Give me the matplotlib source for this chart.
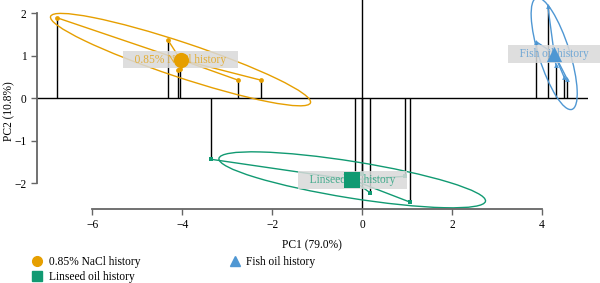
import numpy as np
import matplotlib
matplotlib.use("Agg")
import matplotlib.pyplot as plt
from matplotlib.patches import Ellipse
from matplotlib.lines import Line2D

plt.rcParams['font.family'] = ['Liberation Serif', 'DejaVu Serif']
plt.rcParams['font.size'] = 8.3

# PCA scores per group
groups = ['0.85% NaCl history', 'Linseed oil history', 'Fish oil history']
colors = ['#E69F00', '#119A72', '#4F97D3']
markers = ['o', 's', '^']

nacl_pc1 = [-6.78, -4.32, -4.09, -4.05, -2.75, -2.24]
nacl_pc2 = [1.89, 1.37, 0.66, 0.68, 0.42, 0.42]
linseed_pc1 = [-3.36, -0.16, -0.01, 0.18, 0.96, 1.07]
linseed_pc2 = [-1.44, -1.80, -1.78, -2.23, -1.84, -2.45]
fish_pc1 = [3.87, 4.13, 4.31, 4.49, 4.56]
fish_pc2 = [1.33, 2.17, 0.78, 0.50, 0.45]

pc1_data = [nacl_pc1, linseed_pc1, fish_pc1]
pc2_data = [nacl_pc2, linseed_pc2, fish_pc2]


def conf_ellipse(ax, x, y, color, n_std=1.83):
    cov = np.cov(x, y)
    vals, vecs = np.linalg.eigh(cov)
    order = vals.argsort()[::-1]
    vals, vecs = vals[order], vecs[:, order]
    angle = np.degrees(np.arctan2(vecs[1, 0], vecs[0, 0]))
    w, h = 2 * n_std * np.sqrt(vals)
    e = Ellipse((np.mean(x), np.mean(y)), w, h, angle=angle,
                fill=False, edgecolor=color, linewidth=1.0, zorder=2)
    ax.add_patch(e)


fig = plt.figure(figsize=(6, 2.83), dpi=100)
ax = fig.add_axes([0.0617, 0.2615, 0.918, 0.7385])

# reference lines
ax.axhline(0, color='black', linewidth=1.0, zorder=1)
ax.axvline(0, color='black', linewidth=1.0, zorder=1)

for x, y, c, m, name in zip(pc1_data, pc2_data, colors, markers, groups):
    x = np.array(x)
    y = np.array(y)
    cx, cy = x.mean(), y.mean()
    # stems down to zero
    ax.vlines(x, 0, y, color='black', linewidth=1.0, zorder=1.5)
    conf_ellipse(ax, x, y, c)
    # spider lines to centroid
    for xi, yi in zip(x, y):
        ax.plot([cx, xi], [cy, yi], color=c, linewidth=1.0, zorder=2)
    ax.scatter(x, y, marker=m, s=12, color=c, zorder=3, linewidths=0)
    ax.text(cx, cy, '   ' + name + '   ', color=c, alpha=0.75,
            ha='center', va='center', zorder=4,
            bbox=dict(boxstyle='square,pad=0.25', facecolor='#d9d9d9',
                      edgecolor='none', alpha=0.85))
    ax.scatter([cx], [cy], marker=m, s=120, color=c, zorder=5, linewidths=0)

ax.set_xlim(-7.23, 5.02)
ax.set_ylim(-2.61, 2.31)
ax.set_xticks([-6, -4, -2, 0, 2, 4])
ax.set_yticks([-2, -1, 0, 1, 2])
ax.spines['top'].set_visible(False)
ax.spines['right'].set_visible(False)
ax.spines['left'].set_bounds(-2, 2)
ax.spines['bottom'].set_bounds(-6, 4)
for s in ['left', 'bottom']:
    ax.spines[s].set_color('#666666')
    ax.spines[s].set_linewidth(1.3)
ax.tick_params(colors='#666666', labelcolor='black', length=4, width=1.0)
ax.set_xlabel('PC1 (79.0%)', labelpad=6)
ax.set_ylabel('PC2 (10.8%)')
ax.yaxis.set_label_coords(-0.04, 0.47)

handles = [Line2D([], [], linestyle='none', marker=m, color=c, markersize=7)
           for m, c in zip(markers, colors)]
fig.legend(handles, groups, ncol=2, frameon=False, loc='upper left',
           bbox_to_anchor=(0.045, 0.112), handlelength=1.0,
           handletextpad=0.5, columnspacing=7.7, labelspacing=0.3,
           borderaxespad=0)

fig.savefig('out.png', dpi=100)
